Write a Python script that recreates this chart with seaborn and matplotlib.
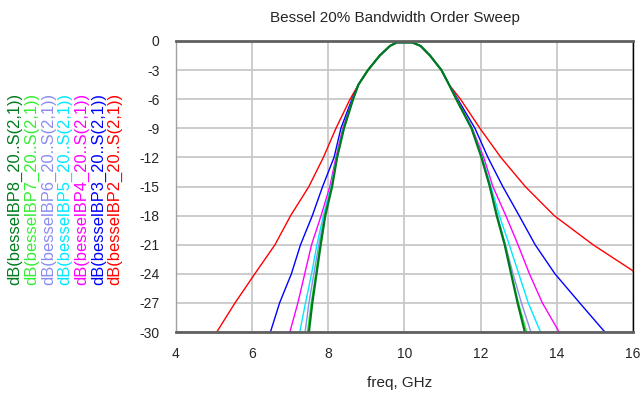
import matplotlib
matplotlib.use("Agg")
import matplotlib.pyplot as plt
import seaborn as sns
import pandas as pd
from matplotlib.ticker import MultipleLocator

sns.set_theme(style="white")
plt.rcParams['font.family'] = ['Liberation Sans', 'DejaVu Sans']
plt.rcParams['axes.unicode_minus'] = False

# ---- data ----
series_names = ["besselBP2_20", "besselBP3_20", "besselBP4_20", "besselBP5_20",
                "besselBP6_20", "besselBP7_20", "besselBP8_20"]
series_colors = ["#ff0000", "#0000ff", "#ff00ff", "#00e8ff",
                 "#8c8cf0", "#33ee33", "#007a1e"]

# lower skirt: dB levels and frequency (GHz) per series
lower_db = [-30, -27, -24, -21, -18, -15, -12, -9, -6]
lower_f = {
    "besselBP2_20": [5.07, 5.55, 6.07, 6.60, 7.01, 7.49, 7.87, 8.20, 8.57],
    "besselBP3_20": [6.48, 6.72, 7.03, 7.27, 7.58, 7.85, 8.15, 8.33, 8.62],
    "besselBP4_20": [6.99, 7.20, 7.38, 7.56, 7.81, 8.04, 8.20, 8.38, 8.64],
    "besselBP5_20": [7.25, 7.40, 7.56, 7.70, 7.87, 8.07, 8.22, 8.40, 8.65],
    "besselBP6_20": [7.39, 7.49, 7.62, 7.75, 7.90, 8.08, 8.23, 8.41, 8.65],
    "besselBP7_20": [7.45, 7.55, 7.67, 7.78, 7.91, 8.09, 8.23, 8.41, 8.65],
    "besselBP8_20": [7.49, 7.58, 7.69, 7.80, 7.92, 8.10, 8.23, 8.41, 8.65],
}

# common passband
pass_f = [8.79, 9.04, 9.35, 9.62, 9.80, 10.20, 10.42, 10.67, 10.97, 11.17]
pass_db = [-4.5, -3.0, -1.5, -0.5, -0.15, -0.15, -0.5, -1.5, -3.0, -4.5]

# upper skirt
upper_db = [-6, -9, -12, -15, -18, -21, -24, -27, -30]
upper_f = {
    "besselBP2_20": [11.47, 11.98, 12.53, 13.17, 13.93, 14.95],
    "besselBP3_20": [11.40, 11.85, 12.19, 12.58, 13.01, 13.43, 13.95, 14.60, 15.26],
    "besselBP4_20": [11.38, 11.78, 12.08, 12.32, 12.66, 12.98, 13.28, 13.62, 14.06],
    "besselBP5_20": [11.37, 11.77, 12.04, 12.27, 12.49, 12.75, 13.00, 13.25, 13.57],
    "besselBP6_20": [11.36, 11.76, 12.03, 12.25, 12.44, 12.65, 12.85, 13.07, 13.32],
    "besselBP7_20": [11.36, 11.76, 12.02, 12.24, 12.43, 12.64, 12.81, 12.99, 13.21],
    "besselBP8_20": [11.36, 11.76, 12.02, 12.24, 12.42, 12.63, 12.80, 12.97, 13.16],
}
# red trace end point at the right edge
bp2_end_f = [16.0]
bp2_end_db = [-23.7]

x_ticks = [4, 6, 8, 10, 12, 14, 16]
y_ticks = [-30, -27, -24, -21, -18, -15, -12, -9, -6, -3, 0]

# ---- build long table ----
rows = []
for name in series_names:
    fs = list(lower_f[name]) + pass_f + list(upper_f[name])
    ds = lower_db[:len(lower_f[name])] + pass_db + upper_db[:len(upper_f[name])]
    if name == "besselBP2_20":
        fs += bp2_end_f
        ds += bp2_end_db
    for i, (f, d) in enumerate(zip(fs, ds)):
        rows.append({"series": name, "freq": f, "dB": d, "order": i})
df = pd.DataFrame(rows)

# ---- figure ----
fig = plt.figure(figsize=(6.41, 3.95), dpi=100)
ax = fig.add_axes([176/641, 1-332/395, (633-176)/641, (332-41)/395])

for name, col in zip(series_names, series_colors):
    sub = df[df.series == name]
    lw = 1.6 if name == "besselBP8_20" else 1.0
    sns.lineplot(data=sub, x="freq", y="dB", sort=False, estimator=None,
                 color=col, linewidth=lw, ax=ax, legend=False)

ax.set_xlim(4, 16)
ax.set_ylim(-30, 0)
ax.set_xticks(x_ticks)
ax.set_yticks(y_ticks)
ax.xaxis.set_minor_locator(MultipleLocator(1))
ax.yaxis.set_minor_locator(MultipleLocator(1.5))
ax.set_xticklabels([str(v) for v in x_ticks], fontsize=10)
ax.set_yticklabels([str(v) for v in y_ticks], fontsize=10)
ax.tick_params(axis='x', which='major', direction='out', length=5, width=1,
               color='#404040', pad=6)
ax.tick_params(axis='x', which='minor', direction='out', length=3, width=1,
               color='#404040')
ax.tick_params(axis='y', which='major', direction='out', length=10, width=1,
               color='#404040', pad=2)
ax.tick_params(axis='y', which='minor', direction='out', length=4, width=1,
               color='#404040')
ax.grid(True, which='major', color='#c8c8c8', linewidth=1.3)
ax.set_axisbelow(True)
for s in ['top', 'bottom']:
    ax.spines[s].set_color('#606060')
    ax.spines[s].set_linewidth(2.0)
ax.spines['left'].set_color('#a0a0a0')
ax.spines['left'].set_linewidth(1.0)
ax.spines['right'].set_color('#000000')
ax.spines['right'].set_linewidth(1.0)
ax.set_xlabel("")
ax.set_ylabel("")

fig.text(395/641, 1-18/395, "Bessel 20% Bandwidth Order Sweep",
         ha='center', va='center', fontsize=11)
fig.text(400/641, 1-383/395, "freq, GHz", ha='center', va='center', fontsize=11)

# rotated legend labels at the left (BP8 leftmost)
leg_x = [15, 31.7, 48.3, 65, 81.7, 98.3, 115]
for px, name, col in zip(leg_x, series_names[::-1], series_colors[::-1]):
    fig.text(px/641, 1-285/395, f"dB({name}..S(2,1))", rotation=90,
             ha='center', va='bottom', fontsize=11.9, color=col)

fig.savefig("out.png", dpi=100)
